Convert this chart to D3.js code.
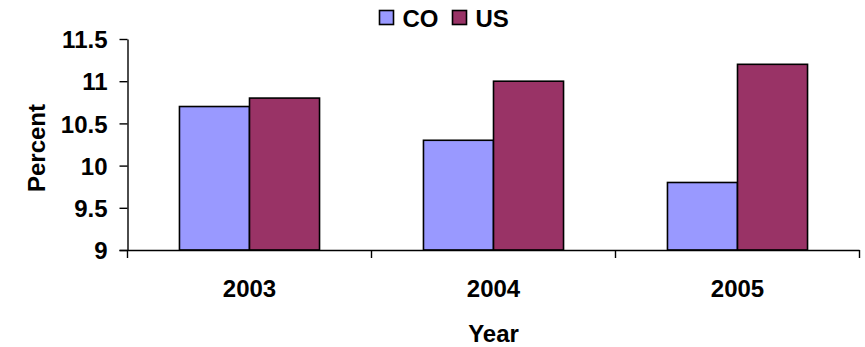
<!DOCTYPE html>
<html>
<head>
<meta charset="utf-8">
<script src="https://cdn.jsdelivr.net/npm/d3@7"></script>
<style>
  html, body { margin: 0; padding: 0; background: #fff; }
  svg { display: block; font-family: "Liberation Sans", Arial, sans-serif; font-weight: bold; }
</style>
</head>
<body>
<svg id="chart" width="865" height="347"></svg>
<script>
// Percent by year, Colorado vs. United States
const years = ["2003", "2004", "2005"];
const seriesNames = ["CO", "US"];
const coValues = [10.7, 10.3, 9.8];
const usValues = [10.8, 11.0, 11.2];
const yTicks = [9, 9.5, 10, 10.5, 11, 11.5];
const colors = { CO: "#9999FF", US: "#993366" };

const values = { CO: coValues, US: usValues };
const rows = years.map((yr, i) => ({ year: yr, CO: coValues[i], US: usValues[i] }));

const svg = d3.select("#chart");
const plot = { left: 127.5, right: 859.5, top: 39, bottom: 250 };

const x0 = d3.scaleBand().domain(years).range([plot.left, plot.right]).padding(0);
const x1 = d3.scaleBand().domain(seriesNames).range([0, x0.bandwidth()])
  .paddingInner(0).paddingOuter(0.742);
const y = d3.scaleLinear().domain([9, 11.5]).range([plot.bottom, plot.top]);

// Bars
const groups = svg.append("g").selectAll("g").data(rows).join("g")
  .attr("transform", d => `translate(${x0(d.year)},0)`);
groups.selectAll("rect")
  .data(d => seriesNames.map(s => ({ key: s, value: d[s] })))
  .join("rect")
  .attr("x", d => x1(d.key))
  .attr("y", d => y(d.value))
  .attr("width", x1.bandwidth())
  .attr("height", d => y(9) - y(d.value))
  .attr("fill", d => colors[d.key])
  .attr("stroke", "#000")
  .attr("stroke-width", 1.6);

// Y axis
const yAxis = svg.append("g")
  .attr("transform", `translate(${plot.left},0)`)
  .call(d3.axisLeft(y).tickValues(yTicks).tickFormat(d3.format("")).tickSize(8).tickSizeOuter(0).tickPadding(12));
yAxis.selectAll("path, line").attr("stroke", "#000").attr("stroke-width", 1.4);
yAxis.selectAll("text")
  .attr("font-size", 24).attr("font-weight", "bold").attr("fill", "#000")
  .attr("font-family", "Liberation Sans, Arial, sans-serif")
  .attr("dy", "0.36em");

// X axis: labels centered in each category, ticks on category boundaries
const xAxis = svg.append("g")
  .attr("transform", `translate(0,${plot.bottom})`)
  .call(d3.axisBottom(x0).tickSize(0).tickSizeOuter(0).tickPadding(0));
xAxis.select(".domain").attr("stroke", "#000").attr("stroke-width", 1.4)
  .attr("d", `M${plot.left - 8},0.5H${plot.right}`);
xAxis.selectAll("text")
  .attr("font-size", 24).attr("font-weight", "bold").attr("fill", "#000")
  .attr("font-family", "Liberation Sans, Arial, sans-serif")
  .attr("y", 46.5).attr("dy", null);

const boundaries = years.map(yr => x0(yr)).concat([x0.range()[1]]);
xAxis.selectAll("line.bound").data(boundaries).join("line")
  .attr("class", "bound")
  .attr("x1", d => d).attr("x2", d => d)
  .attr("y1", 0).attr("y2", 8)
  .attr("stroke", "#000").attr("stroke-width", 1.4);

// Axis titles
svg.append("text")
  .attr("x", (plot.left + plot.right) / 2).attr("y", 341.5)
  .attr("text-anchor", "middle").attr("font-size", 24).attr("fill", "#000")
  .text("Year");
svg.append("text")
  .attr("transform", `translate(45,148) rotate(-90)`)
  .attr("text-anchor", "middle").attr("font-size", 24).attr("fill", "#000")
  .text("Percent");

// Legend
const legend = svg.append("g").selectAll("g").data(seriesNames).join("g")
  .attr("transform", (d, i) => `translate(${i === 0 ? 379.5 : 452.5},10.5)`);
legend.append("rect")
  .attr("width", 14).attr("height", 14)
  .attr("fill", d => colors[d]).attr("stroke", "#000").attr("stroke-width", 1.6);
legend.append("text")
  .attr("x", 23).attr("y", 16).attr("font-size", 24).attr("fill", "#000")
  .text(d => d);
</script>
</body>
</html>
